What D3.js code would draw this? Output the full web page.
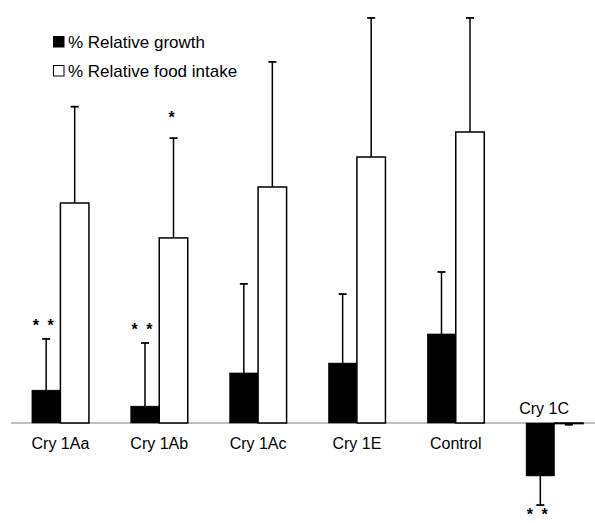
<!DOCTYPE html>
<html>
<head>
<meta charset="utf-8">
<script src="https://cdn.jsdelivr.net/npm/d3@7"></script>
<style>
  html, body { margin: 0; padding: 0; background: #fff; }
  svg { display: block; }
  text { font-family: "Liberation Sans", Arial, sans-serif; fill: #000; }
</style>
</head>
<body>
<svg id="chart" width="595" height="523"></svg>
<script>
// ---- data ----
const categories = ["Cry 1Aa", "Cry 1Ab", "Cry 1Ac", "Cry 1E", "Control", "Cry 1C"];
const growth     = [11.3, 5.8, 17.2, 20.6, 30.6, -18.2];
const growthErr  = [17.6, 21.7, 30.6, 23.7, 21.3, 10.0];
const food       = [75.6, 63.6, 81.1, 91.4, 100, -0.2];
const foodErr    = [33.1, 34.3, 43.0, 47.8, 39.2, 0.4];
const growthStars = ["* *", "* *", "", "", "", "* *"];
const foodStars   = ["", "*", "", "", "", ""];
const seriesNames = ["% Relative growth", "% Relative food intake"];
const seriesFill  = ["#000000", "#ffffff"];

// ---- layout ----
const svg = d3.select("#chart");
const x = d3.scaleBand().domain(categories).range([11, 604]).paddingInner(0.423).paddingOuter(0.2115);
const xs = d3.scaleBand().domain([0, 1]).range([0, x.bandwidth()]);
const y = d3.scaleLinear().domain([-40, 140]).range([423 + 40 * 2.91, 423 - 140 * 2.91]);

const series = [
  { vals: growth, errs: growthErr, stars: growthStars },
  { vals: food, errs: foodErr, stars: foodStars }
];

// axis line
svg.append("line")
  .attr("x1", 11).attr("x2", 595)
  .attr("y1", y(0)).attr("y2", y(0))
  .attr("stroke", "#808080").attr("stroke-width", 1);

series.forEach((s, si) => {
  const g = svg.append("g");
  categories.forEach((c, i) => {
    const v = s.vals[i];
    const bx = x(c) + xs(si);
    const bw = xs.bandwidth();
    const cx = bx + bw / 2;
    const top = Math.min(y(v), y(0));
    const h = Math.abs(y(v) - y(0));
    const end = v + Math.sign(v) * s.errs[i];
    // error bar
    g.append("line").attr("x1", cx).attr("x2", cx)
      .attr("y1", y(v)).attr("y2", y(end))
      .attr("stroke", "#000").attr("stroke-width", 1.5);
    g.append("line").attr("x1", cx - 4).attr("x2", cx + 4)
      .attr("y1", y(end)).attr("y2", y(end))
      .attr("stroke", "#000").attr("stroke-width", 1.8);
    // bar
    g.append("rect")
      .attr("x", bx).attr("y", top)
      .attr("width", bw).attr("height", h)
      .attr("fill", seriesFill[si])
      .attr("stroke", "#000").attr("stroke-width", si === 1 ? 1.5 : 0.5);
    // stars
    if (s.stars[i]) {
      const ey = y(end);
      let by;
      if (v >= 0) by = ey - (si === 1 ? 25 : 17) + 9.5;
      else by = 519.5;
      g.append("text")
        .attr("x", cx - 2).attr("y", by)
        .attr("text-anchor", "middle")
        .attr("font-size", 16)
        .attr("font-weight", "bold")
        .attr("letter-spacing", s.stars[i].length > 1 ? 2 : 0)
        .text(s.stars[i]);
    }
  });
});

// category labels
categories.forEach((c, i) => {
  const neg = growth[i] < 0;
  svg.append("text")
    .attr("x", neg ? x(c) + 18 : x(c) + x.bandwidth() / 2)
    .attr("y", neg ? 413.5 : 448.5)
    .attr("text-anchor", "middle")
    .attr("font-size", 16)
    .text(c);
});

// legend
const leg = svg.append("g");
seriesNames.forEach((n, i) => {
  const ly = 36 + i * 29;
  leg.append("rect")
    .attr("x", 53.5).attr("y", ly + 0.5)
    .attr("width", 10.5).attr("height", 10.5)
    .attr("fill", seriesFill[i]).attr("stroke", "#000").attr("stroke-width", 1);
  leg.append("text")
    .attr("x", 68).attr("y", ly + 12)
    .attr("font-size", 17)
    .text(n);
});
</script>
</body>
</html>
